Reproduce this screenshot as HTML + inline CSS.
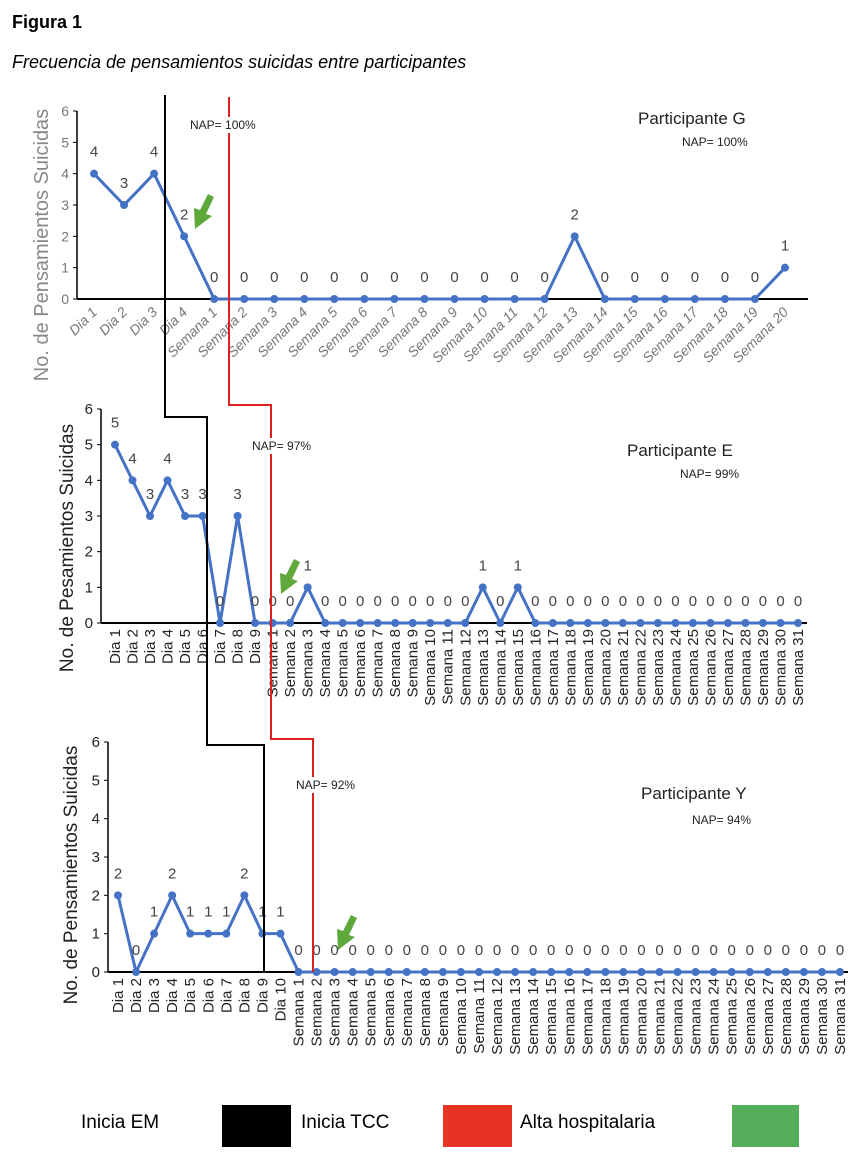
<!DOCTYPE html>
<html><head><meta charset="utf-8"><style>
body{margin:0;background:#fff;width:848px;height:1172px;overflow:hidden;font-family:"Liberation Sans",Arial,sans-serif}
svg{display:block}
</style></head><body>
<svg id="chart" width="848" height="1172" xmlns="http://www.w3.org/2000/svg" font-family="Liberation Sans, Arial, sans-serif">
<text x="12" y="28" font-size="18" font-weight="bold">Figura 1</text>
<text x="12" y="68" font-size="18" font-style="italic">Frecuencia de pensamientos suicidas entre participantes</text>
<g id="plots"></g>
<g font-size="19">
<text x="81" y="1128">Inicia EM</text>
<rect x="222" y="1105" width="69" height="42" fill="#000"/>
<text x="301" y="1128">Inicia TCC</text>
<rect x="443" y="1105" width="69" height="42" fill="#e63323"/>
<text x="520" y="1128">Alta hospitalaria</text>
<rect x="732" y="1105" width="67" height="42" fill="#54ae5a"/>
</g>
</svg>
<script>
const catsG = ["Dia 1","Dia 2","Dia 3","Dia 4"].concat(Array.from({length:20},(_,i)=>"Semana "+(i+1)));
const valsG = [4,3,4,2,0,0,0,0,0,0,0,0,0,0,0,0,2,0,0,0,0,0,0,1];
const catsE = Array.from({length:9},(_,i)=>"Dia "+(i+1)).concat(Array.from({length:31},(_,i)=>"Semana "+(i+1)));
const valsE = [5,4,3,4,3,3,0,3,0,0,0,1,0,0,0,0,0,0,0,0,0,1,0,1,0,0,0,0,0,0,0,0,0,0,0,0,0,0,0,0];
const catsY = Array.from({length:10},(_,i)=>"Dia "+(i+1)).concat(Array.from({length:31},(_,i)=>"Semana "+(i+1)));
const valsY = [2,0,1,2,1,1,1,2,1,1,0,0,0,0,0,0,0,0,0,0,0,0,0,0,0,0,0,0,0,0,0,0,0,0,0,0,0,0,0,0,0];
const yTicks = [0,1,2,3,4,5,6];

const NS="http://www.w3.org/2000/svg";
const root=document.getElementById('plots');
function mk(tag,attrs,parent,txt){const e=document.createElementNS(NS,tag);for(const k in attrs)e.setAttribute(k,attrs[k]);if(txt!==undefined)e.textContent=txt;(parent||root).appendChild(e);return e;}

const panels=[
 {id:'g',cats:catsG,vals:valsG,axX:77,axEnd:808,x0:94,x1:785,y0:299,y6:111,rot:-45,gray:true,title:'Participante G',nap:'NAP= 100%',tx:638,ty:124,nx:682,ny:146,yt:'No. de Pensamientos Suicidas',ytx:48,ytc:245,ytf:20},
 {id:'e',cats:catsE,vals:valsE,axX:101,axEnd:807,x0:115,x1:798,y0:623,y6:409,rot:-90,gray:false,title:'Participante E',nap:'NAP= 99%',tx:627,ty:456,nx:680,ny:478,yt:'No. de Pesamientos Suicidas',ytx:73,ytc:548,ytf:19},
 {id:'y',cats:catsY,vals:valsY,axX:108,axEnd:848,x0:118,x1:840,y0:972,y6:742,rot:-90,gray:false,title:'Participante Y',nap:'NAP= 94%',tx:641,ty:799,nx:692,ny:824,yt:'No. de Pensamientos Suicidas',ytx:77,ytc:875,ytf:19}
];
panels.forEach(p=>{
 const g=mk('g',{});
 
 
 const n=p.cats.length;
 const xs=i=>p.x0+(p.x1-p.x0)*i/(n-1);
 const ys=v=>p.y0+(p.y6-p.y0)*v/6;
 const tc=p.gray?'#777':'#222';
 const ya=mk('line',{x1:p.axX,y1:ys(6),x2:p.axX,y2:p.y0,stroke:'#000','stroke-width':1.5},g);
 
 const xa=mk('line',{x1:p.axX,y1:p.y0,x2:p.axEnd,y2:p.y0,stroke:'#000','stroke-width':2},g);
 
 yTicks.forEach(t=>{
  const tl=mk('text',{x:p.axX-8,y:ys(t)+5,'font-size':p.gray?14:15,'text-anchor':'end',fill:tc},g,t);
  
  mk('line',{x1:p.axX-4,y1:ys(t),x2:p.axX,y2:ys(t),stroke:'#000'},g);
 });
 const yt=mk('text',{x:p.ytx,y:p.ytc,'font-size':p.ytf,'text-anchor':'middle',fill:p.gray?'#888':'#222',transform:`rotate(-90 ${p.ytx} ${p.ytc})`},g,p.yt);
 
 p.cats.forEach((c,i)=>{
  const x=xs(i);
  let t;
  if(p.rot===-45){
   t=mk('text',{x:x+4,y:p.y0+14,'font-size':14,'font-style':'italic','text-anchor':'end',fill:'#777',transform:`rotate(-45 ${x+4} ${p.y0+14})`},g,c);
  }else{
   t=mk('text',{x:x+5,y:p.y0+6,'font-size':15,'text-anchor':'end',fill:'#222',transform:`rotate(-90 ${x+5} ${p.y0+6})`},g,c);
  }
  
 });
 const pts=p.vals.map((v,i)=>xs(i)+','+ys(v)).join(' ');
 const line=mk('polyline',{points:pts,fill:'none',stroke:'#4472c4','stroke-width':3,'stroke-linejoin':'round'},g);
 
 p.vals.forEach((v,i)=>{
  const c=mk('circle',{cx:xs(i),cy:ys(v),r:4,fill:'#4472c4'},g);
  
  const l=mk('text',{x:xs(i),y:ys(v)-17,'font-size':15,'text-anchor':'middle',fill:'#444'},g,v);
  
 });
 const tt=mk('text',{x:p.tx,y:p.ty,'font-size':17,fill:'#222'},g,p.title);
 
 const nn=mk('text',{x:p.nx,y:p.ny,'font-size':12,fill:'#222'},g,p.nap);
 
});
const bl=mk('polyline',{points:'165,95 165,417 207,417 207,745 264,745 264,972',fill:'none',stroke:'#000','stroke-width':2});

const rl=mk('polyline',{points:'229,97 229,405 271,405 271,739 313,739 313,972',fill:'none',stroke:'#e02020','stroke-width':2});

[['NAP= 100%',190,129],['NAP= 97%',252,450],['NAP= 92%',296,789]].forEach(a=>{
 mk('rect',{x:a[1]-2,y:a[2]-12,width:a[0].length*6.6,height:16,fill:'#fff'});
 const t=mk('text',{x:a[1],y:a[2],'font-size':12,fill:'#222'},root,a[0]);
 
});
[[200,212],[286,577],[343,933]].forEach(a=>{
 const ar=mk('polygon',{points:`${a[0]+8},${a[1]-18} ${a[0]+14},${a[1]-15} ${a[0]+6},${a[1]+2} ${a[0]+12},${a[1]+4} ${a[0]-5},${a[1]+17} ${a[0]-6},${a[1]-4} ${a[0]},${a[1]-2}`,fill:'#5fa83c'});
 
});
</script>
</body></html>
